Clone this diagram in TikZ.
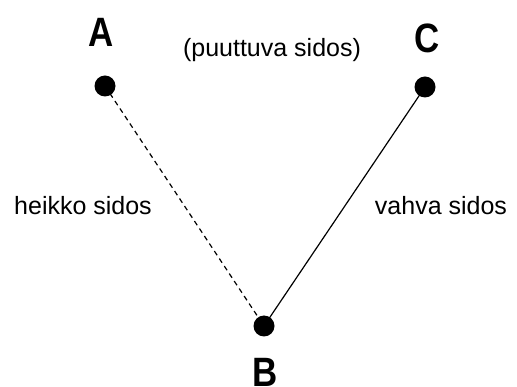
\documentclass[tikz,border=0pt]{standalone}
\usepackage{fontspec}
\setmainfont{Liberation Sans}
\usetikzlibrary{positioning}

\begin{document}
\begin{tikzpicture}[x=1pt, y=-1pt,
		dot/.style={circle, fill, inner sep=0pt, minimum size=21pt},
		letter/.style={font=\bfseries\fontsize{41}{41}\selectfont, inner sep=0pt},
		lbl/.style={font=\fontsize{25}{25}\selectfont, inner sep=0pt}]
		\useasboundingbox (0,0) rectangle (517,387);
		\node[dot] (a) at (105,86) {};
		\node[dot] (c) at (425,87) {};
		\node[dot] (b) at (264,326) {};
		\node[letter] (la) at (101,32) {\scalebox{0.85}[1]{A}};
		\node[letter] (lc) at (427,38) {\scalebox{0.85}[1]{C}};
		\node[letter] (lb) at (265,372) {\scalebox{0.85}[1]{B}};
		\node[lbl] (miss) at (272,50) {(puuttuva sidos)};
		\node[lbl] (weak) at (83,206) {heikko sidos};
		\node[lbl] (strong) at (441,206) {vahva sidos};
		\draw[line width=1.2pt, dash pattern=on 5pt off 4pt] (a.center) -- (b.center);
		\draw[line width=1.2pt] (c.center) -- (b.center);
	\end{tikzpicture}
\end{document}
